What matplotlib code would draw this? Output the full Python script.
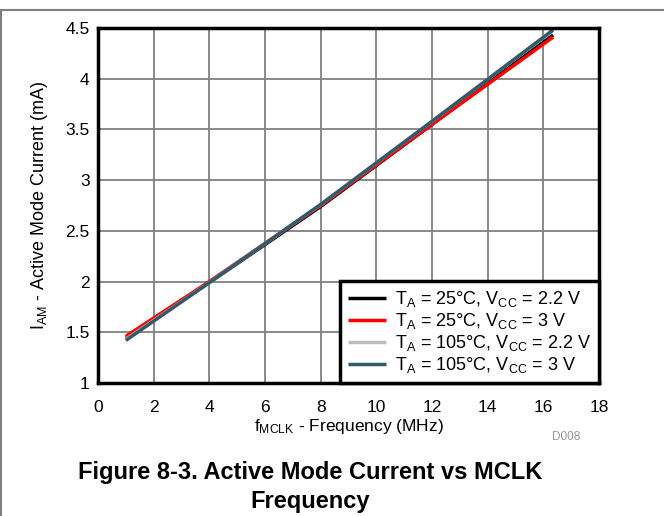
import numpy as np
import matplotlib
matplotlib.use("Agg")
import matplotlib.pyplot as plt
from matplotlib.lines import Line2D

plt.rcParams['font.family'] = ['Liberation Sans', 'DejaVu Sans']
plt.rcParams['mathtext.fontset'] = 'custom'
plt.rcParams['mathtext.rm'] = 'Liberation Sans'
plt.rcParams['mathtext.it'] = 'Liberation Sans'

# data
freq = [1, 4, 8, 12, 16.35]
i_25_22 = [1.44, 1.99, 2.74, 3.55, 4.43]
i_25_3 = [1.46, 2.00, 2.75, 3.55, 4.41]
i_105_22 = [1.43, 1.99, 2.76, 3.58, 4.48]
i_105_3 = [1.42, 1.99, 2.76, 3.58, 4.48]

labels = [r'T$_\mathregular{A}$ = 25°C, V$_\mathregular{CC}$ = 2.2 V',
          r'T$_\mathregular{A}$ = 25°C, V$_\mathregular{CC}$ = 3 V',
          r'T$_\mathregular{A}$ = 105°C, V$_\mathregular{CC}$ = 2.2 V',
          r'T$_\mathregular{A}$ = 105°C, V$_\mathregular{CC}$ = 3 V']
colors = ['#000000', '#ff0000', '#bdbdbd', '#33596b']

fig = plt.figure(figsize=(6.64, 5.16), dpi=100)
ax = fig.add_axes([98/664, 1-383/516, 501/664, 355/516])

for y, c, lab in zip([i_25_22, i_25_3, i_105_22, i_105_3], colors, labels):
    ax.plot(freq, y, color=c, lw=2.5, label=lab, solid_capstyle='butt')

ax.set_xlim(0, 18)
ax.set_ylim(1, 4.5)
ax.set_xticks(np.arange(0, 19, 2))
ax.set_yticks([1, 1.5, 2, 2.5, 3, 3.5, 4, 4.5])
ax.set_yticklabels(['1', '1.5', '2', '2.5', '3', '3.5', '4', '4.5'])
ax.grid(True, color='#808080', lw=1.3)
ax.set_axisbelow(True)
ax.tick_params(length=0, labelsize=12.5, pad=6)
ax.tick_params(axis='x', pad=12)
for s in ax.spines.values():
    s.set_linewidth(2.5)

ax.set_xlabel(r'f$_\mathregular{MCLK}$ - Frequency (MHz)', fontsize=12.5, labelpad=2)
ax.set_ylabel(r'I$_\mathregular{AM}$ - Active Mode Current (mA)', fontsize=13, labelpad=11)

leg = ax.legend(loc='lower right', fontsize=13, frameon=True, fancybox=False,
                borderaxespad=0, handlelength=2.1, handletextpad=0.5,
                labelspacing=0.1, borderpad=0.45)
leg.get_frame().set_edgecolor('black')
leg.get_frame().set_linewidth(2.5)
leg.get_frame().set_alpha(1)

fig.text(566/664, 1-437/516, 'D008', fontsize=8.5, color='#999999', ha='center', va='center')
fig.text(310/664, 1-487/516, 'Figure 8-3. Active Mode Current vs MCLK\nFrequency',
         fontsize=17, fontweight='bold', ha='center', va='center', linespacing=1.35)

# page border lines
fig.add_artist(Line2D([0, 1], [1-9.5/516, 1-9.5/516], color='#808080', lw=1.5))
fig.add_artist(Line2D([0.8/664, 0.8/664], [0, 1-9.5/516], color='#808080', lw=1.5))

fig.savefig('out.png', dpi=100)
